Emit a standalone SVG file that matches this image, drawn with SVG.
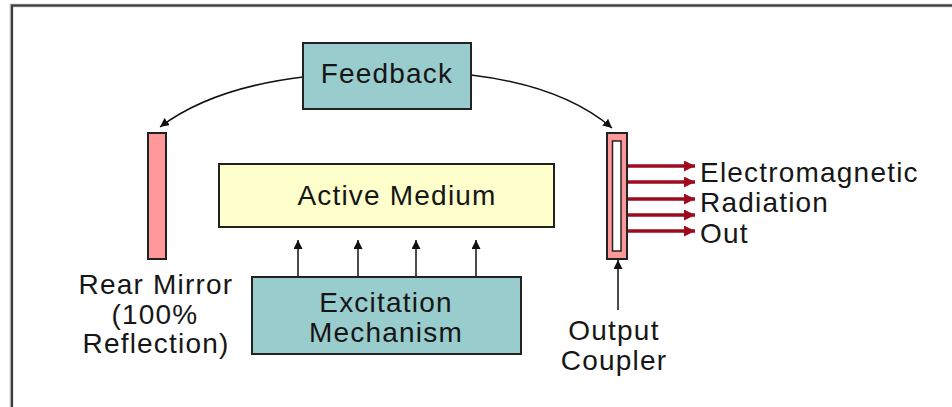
<svg xmlns="http://www.w3.org/2000/svg" width="952" height="407" viewBox="0 0 952 407">
<style>
.t{font-family:"Liberation Sans",Arial,sans-serif;font-size:28px;letter-spacing:1.2px;fill:#161616}
.c{text-anchor:middle}
.box{stroke:#222;stroke-width:2}
.blk{stroke:#111;stroke-width:1.5;fill:none}
.red{stroke:#9e0a1e;stroke-width:3.5;fill:none}
</style>
<defs>
<marker id="ah" viewBox="0 0 10 10" refX="10" refY="5" markerWidth="9" markerHeight="9" markerUnits="userSpaceOnUse" orient="auto">
<path d="M0,0 L10,5 L0,10 z" fill="#111"/>
</marker>
<marker id="rh" viewBox="0 0 10 10" refX="10" refY="5" markerWidth="16" markerHeight="11" markerUnits="userSpaceOnUse" orient="auto">
<path d="M0,0 L10,5 L0,10 z" fill="#9e0a1e"/>
</marker>
</defs>
<rect width="952" height="407" fill="#fff"/>
<path d="M11.5,420 V5.5 H960" fill="none" stroke="#b0b0b0" stroke-width="3.5"/>
<path d="M12,420 V5.5 H960" fill="none" stroke="#3a3a3a" stroke-width="2"/>

<g id="connectors">
<path class="blk" d="M303,77 Q212,88 160,127" marker-end="url(#ah)"/>
<path class="blk" d="M471,75 Q563,86 612,128" marker-end="url(#ah)"/>
<path class="blk" d="M298,277 V240" marker-end="url(#ah)"/>
<path class="blk" d="M358,277 V240" marker-end="url(#ah)"/>
<path class="blk" d="M416,277 V240" marker-end="url(#ah)"/>
<path class="blk" d="M476,277 V240" marker-end="url(#ah)"/>
<path class="blk" d="M618,310 V260" marker-end="url(#ah)"/>
<path class="red" d="M627,166 H695" marker-end="url(#rh)"/>
<path class="red" d="M627,182 H695" marker-end="url(#rh)"/>
<path class="red" d="M627,199 H695" marker-end="url(#rh)"/>
<path class="red" d="M627,215 H695" marker-end="url(#rh)"/>
<path class="red" d="M627,231 H695" marker-end="url(#rh)"/>
</g>

<g id="feedback">
<rect class="box" x="303" y="43" width="168" height="66" fill="#99cccc"/>
<text class="t c" x="387" y="83">Feedback</text>
</g>

<g id="rear-mirror">
<rect class="box" x="148" y="133" width="18" height="126" fill="#ff9999"/>
<text class="t c" x="156" y="294">Rear Mirror</text>
<text class="t c" x="155" y="324">(100%</text>
<text class="t c" x="156" y="353">Reflection)</text>
</g>

<g id="active-medium">
<rect class="box" x="219" y="164" width="335" height="63" fill="#ffffcc"/>
<text class="t c" x="397" y="205">Active Medium</text>
</g>

<g id="excitation">
<rect class="box" x="252" y="277" width="269" height="77" fill="#99cccc"/>
<text class="t c" x="386" y="312">Excitation</text>
<text class="t c" x="386" y="342">Mechanism</text>
</g>

<g id="output-coupler">
<rect class="box" x="607" y="133" width="20" height="126" fill="#ff9999"/>
<rect x="612.5" y="141" width="8.5" height="110" fill="#fff" stroke="#222" stroke-width="1.5"/>
<text class="t c" x="614" y="340">Output</text>
<text class="t c" x="614" y="370">Coupler</text>
</g>

<g id="radiation-label">
<text class="t" x="700" y="182">Electromagnetic</text>
<text class="t" x="700" y="212">Radiation</text>
<text class="t" x="700" y="243">Out</text>
</g>
</svg>
